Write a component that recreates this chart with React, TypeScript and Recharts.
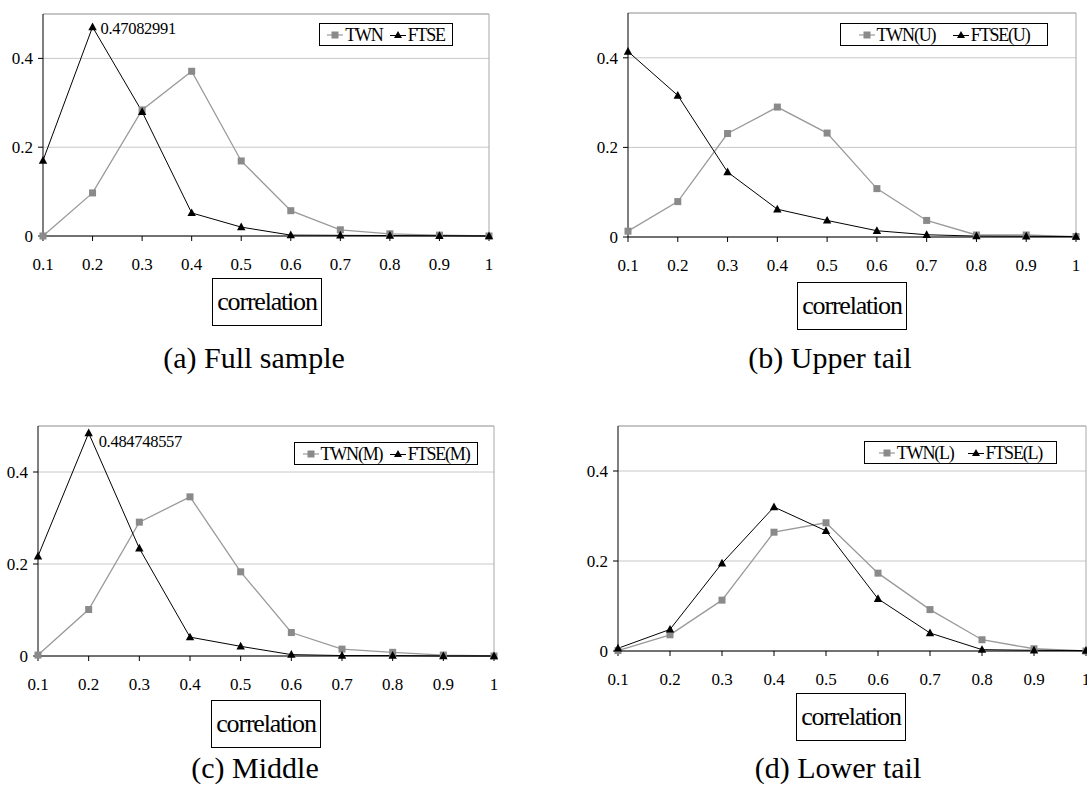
import { LineChart, Line, XAxis, YAxis, CartesianGrid, ReferenceLine } from "recharts";

const correlation = [0.1, 0.2, 0.3, 0.4, 0.5, 0.6, 0.7, 0.8, 0.9, 1];
const yTicks = [0, 0.2, 0.4];

const twnFull = [0, 0.097, 0.284, 0.371, 0.169, 0.057, 0.014, 0.005, 0.002, 0];
const ftseFull = [0.17, 0.47082991, 0.28, 0.052, 0.02, 0.002, 0.0015, 0.001, 0.0005, 0];
const twnUpper = [0.013, 0.079, 0.231, 0.29, 0.232, 0.108, 0.037, 0.0045, 0.0045, 0.001];
const ftseUpper = [0.414, 0.316, 0.145, 0.062, 0.037, 0.014, 0.005, 0.002, 0.0015, 0.001];
const twnMiddle = [0.002, 0.101, 0.291, 0.346, 0.183, 0.051, 0.015, 0.008, 0.002, 0];
const ftseMiddle = [0.217, 0.484748557, 0.234, 0.041, 0.021, 0.003, 0.001, 0.001, 0, 0];
const twnLower = [0.001, 0.036, 0.113, 0.264, 0.285, 0.173, 0.092, 0.025, 0.005, 0];
const ftseLower = [0.006, 0.048, 0.195, 0.32, 0.267, 0.116, 0.04, 0.003, 0.0015, 0.001];

const FONT = '"Liberation Serif", "Times New Roman", serif';
const GREY_LINE = "#9a9a9a";
const GREY_MARK = "#8a8a8a";

const panels = [
  {
    id: "a",
    names: ["TWN", "FTSE"],
    twn: twnFull,
    ftse: ftseFull,
    peak: 1,
    caption: "(a) Full sample",
    chart: { left: 0, top: 0, width: 495, height: 276, mTop: 14, mRight: 6, yWidth: 43 },
    legend: { left: 319, top: 23, width: 134 },
    label: { dx: 8, dy: 7 },
    box: { left: 212, top: 278 },
    cap: { x: 254, y: 358 },
  },
  {
    id: "b",
    names: ["TWN(U)", "FTSE(U)"],
    twn: twnUpper,
    ftse: ftseUpper,
    peak: -1,
    caption: "(b) Upper tail",
    chart: { left: 585, top: 0, width: 497, height: 277, mTop: 13, mRight: 6, yWidth: 43 },
    legend: { left: 840, top: 23, width: 208 },
    label: { dx: 8, dy: 7 },
    box: { left: 797, top: 282 },
    cap: { x: 830, y: 358 },
  },
  {
    id: "c",
    names: ["TWN(M)", "FTSE(M)"],
    twn: twnMiddle,
    ftse: ftseMiddle,
    peak: 1,
    caption: "(c) Middle",
    chart: { left: 0, top: 400, width: 500, height: 296, mTop: 26, mRight: 6, yWidth: 38 },
    legend: { left: 294, top: 442, width: 184 },
    label: { dx: 10, dy: 14 },
    box: { left: 211, top: 700 },
    cap: { x: 255, y: 768 },
  },
  {
    id: "d",
    names: ["TWN(L)", "FTSE(L)"],
    twn: twnLower,
    ftse: ftseLower,
    peak: -1,
    caption: "(d) Lower tail",
    chart: { left: 575, top: 400, width: 512, height: 291, mTop: 26, mRight: 1, yWidth: 43 },
    legend: { left: 864, top: 441, width: 193 },
    label: { dx: 8, dy: 7 },
    box: { left: 796, top: 693 },
    cap: { x: 838, y: 768 },
  },
];

function SquareDot({ cx, cy }: any) {
  if (cx == null || cy == null) return null;
  return <rect x={cx - 3.5} y={cy - 3.5} width={7} height={7} fill={GREY_MARK} />;
}

function TriangleDot({ cx, cy }: any) {
  if (cx == null || cy == null) return null;
  return <polygon points={`${cx},${cy - 4.5} ${cx + 4.2},${cy + 3.2} ${cx - 4.2},${cy + 3.2}`} fill="#000" />;
}

function SeriesLegend({ names, style }: { names: string[]; style: any }) {
  return (
    <div
      style={{
        position: "absolute",
        ...style,
        height: 23,
        boxSizing: "border-box",
        border: "1px solid #000",
        background: "#fff",
        display: "flex",
        alignItems: "center",
        justifyContent: "space-evenly",
        fontFamily: FONT,
        fontSize: 18,
        letterSpacing: -1.2,
        lineHeight: 1,
        color: "#000",
      }}
    >
      <span style={{ display: "flex", alignItems: "center" }}>
        <svg width={16} height={10}>
          <line x1={0} y1={5} x2={16} y2={5} stroke={GREY_LINE} strokeWidth={1.2} />
          <rect x={4.5} y={1.5} width={7} height={7} fill={GREY_MARK} />
        </svg>
        <span style={{ marginLeft: 2 }}>{names[0]}</span>
      </span>
      <span style={{ display: "flex", alignItems: "center" }}>
        <svg width={16} height={10}>
          <line x1={0} y1={5.5} x2={16} y2={5.5} stroke="#000" strokeWidth={1} />
          <polygon points="8,1 12,8 4,8" fill="#000" />
        </svg>
        <span style={{ marginLeft: 2 }}>{names[1]}</span>
      </span>
    </div>
  );
}

function Panel({ p }: { p: (typeof panels)[number] }) {
  const data = correlation.map((c, i) => ({ corr: c, twn: p.twn[i], ftse: p.ftse[i] }));
  const c = p.chart;
  const tick = { fontSize: 17, fill: "#000", fontFamily: FONT };
  return (
    <>
      <div style={{ position: "absolute", left: c.left, top: c.top }}>
        <LineChart
          width={c.width}
          height={c.height}
          data={data}
          margin={{ top: c.mTop, right: c.mRight, bottom: 0, left: 0 }}
        >
          <CartesianGrid vertical={false} stroke="#c8c8c8" />
          <ReferenceLine y={0.5} stroke="#a8a8a8" />
          <ReferenceLine x={1} stroke="#a8a8a8" />
          <XAxis
            dataKey="corr"
            type="number"
            domain={[0.1, 1]}
            ticks={correlation}
            interval={0}
            height={40}
            tick={tick}
            tickFormatter={(v) => String(v)}
            axisLine={{ stroke: "#000" }}
            tickLine={{ stroke: "#000" }}
            tickSize={5}
            tickMargin={17}
          />
          <YAxis
            type="number"
            domain={[0, 0.5]}
            ticks={yTicks}
            width={c.yWidth}
            tick={tick}
            tickFormatter={(v) => String(v)}
            axisLine={{ stroke: "#000" }}
            tickLine={{ stroke: "#000" }}
            tickSize={5}
            tickMargin={5}
          />
          <Line
            type="linear"
            dataKey="twn"
            name={p.names[0]}
            stroke={GREY_LINE}
            strokeWidth={1.3}
            dot={(d: any) => <SquareDot key={`s${d.index}`} {...d} />}
            activeDot={false}
            isAnimationActive={false}
          />
          <Line
            type="linear"
            dataKey="ftse"
            name={p.names[1]}
            stroke="#000"
            strokeWidth={1}
            dot={(d: any) => (
              <g key={`t${d.index}`}>
                <TriangleDot {...d} />
                {d.index === p.peak && (
                  <text
                    x={d.cx + p.label.dx}
                    y={d.cy + p.label.dy}
                    fontSize={16.5}
                    fontFamily={FONT}
                    letterSpacing={-0.3}
                    fill="#000"
                  >
                    {String(d.value)}
                  </text>
                )}
              </g>
            )}
            activeDot={false}
            isAnimationActive={false}
          />
        </LineChart>
      </div>
      <SeriesLegend names={p.names} style={{ left: p.legend.left, top: p.legend.top, width: p.legend.width }} />
      <div
        style={{
          position: "absolute",
          left: p.box.left,
          top: p.box.top,
          width: 110,
          height: 48,
          boxSizing: "border-box",
          border: "1px solid #000",
          display: "flex",
          alignItems: "center",
          justifyContent: "center",
          fontFamily: FONT,
          fontSize: 26,
          letterSpacing: -1.2,
        }}
      >
        correlation
      </div>
      <div
        style={{
          position: "absolute",
          left: p.cap.x - 150,
          top: p.cap.y - 20,
          width: 300,
          height: 40,
          lineHeight: "40px",
          textAlign: "center",
          fontFamily: FONT,
          fontSize: 30,
        }}
      >
        {p.caption}
      </div>
    </>
  );
}

export default function App() {
  return (
    <div
      style={{
        position: "absolute",
        left: 0,
        top: 0,
        width: 1087,
        height: 785,
        background: "#fff",
        overflow: "hidden",
      }}
    >
      {panels.map((p) => (
        <Panel key={p.id} p={p} />
      ))}
    </div>
  );
}
